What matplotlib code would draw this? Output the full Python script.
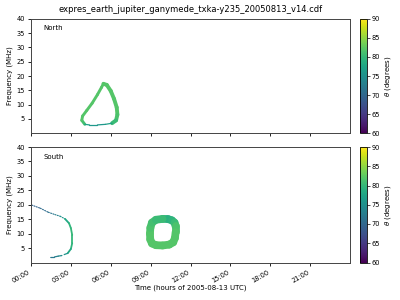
"""ExPRES simulated Jupiter-Ganymede emission seen from Earth, 2005-08-13."""
import matplotlib

matplotlib.use("Agg")
import matplotlib.pyplot as plt
import numpy as np
from matplotlib.collections import LineCollection
from matplotlib.colors import Normalize

TITLE = "expres_earth_jupiter_ganymede_txka-y235_20050813_v14.cdf"
XTICKS = [0, 3, 6, 9, 12, 15, 18, 21]
XTICK_LABELS = ["00:00", "03:00", "06:00", "09:00", "12:00", "15:00", "18:00", "21:00"]
YTICKS = [5, 10, 15, 20, 25, 30, 35, 40]
CB_TICKS = [60, 65, 70, 75, 80, 85, 90]

# North hemisphere: closed loop (hours, MHz, theta deg)
north_left_h = [4.05, 3.82, 3.88, 4.2, 4.6, 5.0, 5.3, 5.45]
north_left_f = [3.1, 4.5, 6.0, 8.0, 10.5, 13.5, 16.0, 17.3]
north_left_t = [80, 82, 82, 82, 82, 82, 82, 82]
north_right_h = [5.45, 5.7, 6.0, 6.25, 6.45, 6.5, 6.4, 6.1]
north_right_f = [17.3, 16.9, 14.8, 12.0, 9.0, 6.5, 4.5, 3.5]
north_right_t = [82, 82, 82, 82, 82, 82, 81, 80]
north_low_h = [6.1, 5.6, 5.0, 4.4, 4.05]
north_low_f = [3.5, 3.1, 2.9, 2.9, 3.1]
north_low_t = [78, 76, 76, 76, 78]

# South hemisphere: early trace
south_dot_h = [0.05, 0.7, 1.3, 1.8, 2.2, 2.56]
south_dot_f = [19.9, 18.8, 17.4, 16.6, 16.0, 15.1]
south_dot_t = [69, 70, 71, 72, 74, 77]
south_arc_h = [2.56, 2.86, 3.0, 3.1, 3.1, 3.0, 2.76]
south_arc_f = [15.1, 13.6, 11.9, 9.5, 6.7, 4.7, 3.2]
south_arc_t = [77, 79, 80, 80, 80, 79, 77]
south_low_h = [2.76, 2.3, 2.05, 1.73, 1.43]
south_low_f = [3.2, 2.4, 2.2, 1.9, 1.9]
south_low_t = [76, 75, 74, 72, 72]

# South hemisphere: ring around 10 UT
south_ring_h = [9.9, 10.3, 10.6, 10.8, 10.88, 10.88, 10.83, 10.7, 10.4, 9.9, 9.4,
                9.1, 8.97, 8.95, 8.98, 9.1, 9.4, 9.9]
south_ring_f = [15.1, 15.05, 14.6, 13.8, 12.5, 10.5, 8.5, 7.0, 6.2, 5.9, 6.0,
                6.6, 8.0, 10.0, 12.0, 13.8, 14.8, 15.1]
south_ring_t = [80, 79, 79, 80, 81, 82, 82, 82, 82, 82, 82,
                82, 82, 82, 82, 81, 81, 80]

NORM = Normalize(60, 90)
CMAP = "viridis"
FS = 5


def _trace(ax, h, f, t, lw, ls="-"):
    pts = np.column_stack([h, f])
    segs = np.stack([pts[:-1], pts[1:]], axis=1)
    t = np.asarray(t, float)
    lc = LineCollection(segs, cmap=CMAP, norm=NORM, linewidths=lw, linestyles=ls,
                        capstyle="round", joinstyle="round")
    lc.set_array((t[:-1] + t[1:]) / 2)
    ax.add_collection(lc)
    return lc


def _panel(fig, rect, cb_rect, name):
    ax = fig.add_axes(rect)
    ax.set_xlim(0, 24)
    ax.set_ylim(0, 40)
    ax.set_xticks(XTICKS)
    ax.set_yticks(YTICKS)
    ax.tick_params(labelsize=FS - 0.25, length=2.5, width=0.6, pad=2)
    for s in ax.spines.values():
        s.set_linewidth(0.7)
        s.set_color("#444444")
    ax.set_ylabel("Frequency (MHz)", fontsize=FS, labelpad=2)
    ax.text(0.04, 0.9, name, transform=ax.transAxes, fontsize=FS)
    cax = fig.add_axes(cb_rect)
    sm = plt.cm.ScalarMappable(norm=NORM, cmap=CMAP)
    cb = fig.colorbar(sm, cax=cax, ticks=CB_TICKS)
    cb.ax.tick_params(labelsize=FS - 0.25, length=2, width=0.5, pad=1.5)
    cb.outline.set_linewidth(0.6)
    cb.set_label(r"$\theta$ (degrees)", fontsize=FS, labelpad=2)
    return ax


fig = plt.figure(figsize=(4, 3), dpi=100)
top = _panel(fig, [0.0775, 0.556, 0.7975, 0.381], [0.9, 0.556, 0.0165, 0.381], "North")
bot = _panel(fig, [0.0775, 0.125, 0.7975, 0.385], [0.9, 0.125, 0.0165, 0.385], "South")

_trace(top, north_left_h, north_left_f, north_left_t, 2.1)
_trace(top, north_right_h, north_right_f, north_right_t, 2.8)
_trace(top, north_low_h, north_low_f, north_low_t, 0.9)
top.set_xticklabels([])

_trace(bot, south_dot_h, south_dot_f, south_dot_t, 0.8, ls=(0, (1, 1.2)))
_trace(bot, south_arc_h, south_arc_f, south_arc_t, 1.3)
_trace(bot, south_low_h, south_low_f, south_low_t, 0.9, ls=(0, (3, 2)))
_trace(bot, south_ring_h, south_ring_f, south_ring_t, 5.6)

bot.set_xticklabels(XTICK_LABELS, rotation=30, ha="right")
bot.set_xlabel("Time (hours of 2005-08-13 UTC)", fontsize=FS, labelpad=1)

fig.text(0.476, 0.967, TITLE, ha="center", va="center", fontsize=FS + 1)
fig.savefig("out.png", dpi=100)
